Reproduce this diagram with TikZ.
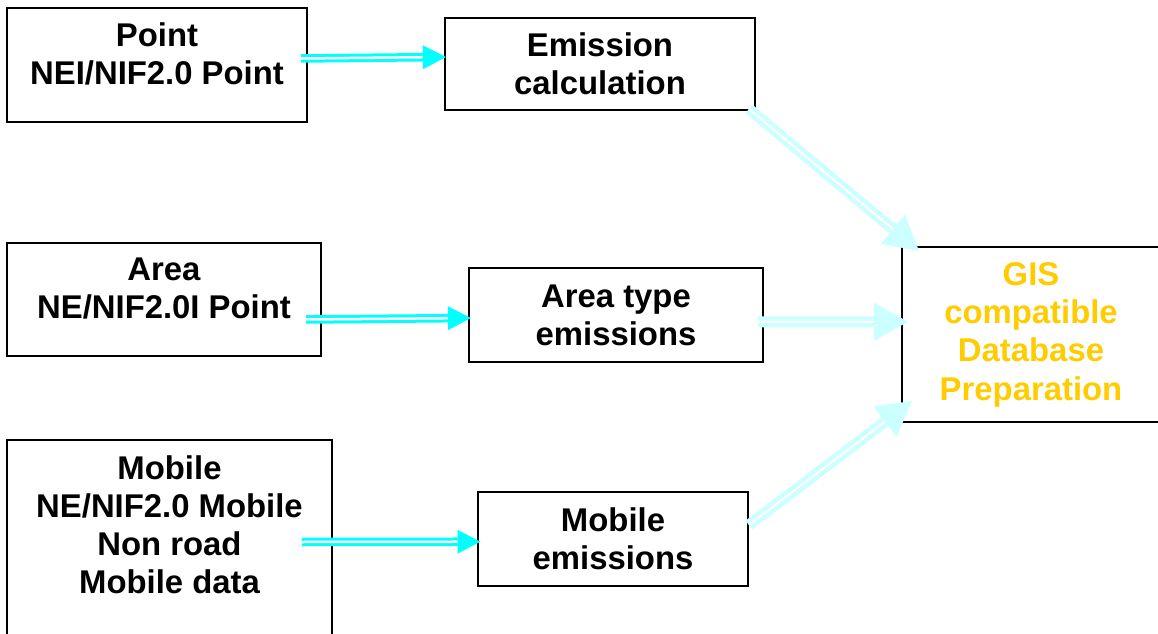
\documentclass[tikz,border=0pt]{standalone}
\usepackage{fontspec}
\setmainfont{Liberation Sans}
\usetikzlibrary{arrows.meta}
\definecolor{feedcyan}{HTML}{00FFFF}
\definecolor{palecyan}{HTML}{CCFFFF}
\definecolor{gisgold}{HTML}{FFCC00}
\tikzset{
  box/.style={draw, line width=0.04cm, align=center, inner sep=0pt,
    font=\bfseries\fontsize{18.7}{21.6}\selectfont},
  feed/.style={draw=feedcyan, double=white, line width=0.06cm, double distance=0.05cm,
    -{Triangle[length=0.46cm, width=0.46cm]}},
  merge/.style={draw=palecyan, double=white, line width=0.09cm, double distance=0.04cm,
    -{Triangle[length=0.68cm, width=0.74cm]}},
}
\begin{document}
\begin{tikzpicture}[x=0.02cm, y=-0.02cm]
  \useasboundingbox (0,0) rectangle (1158,634);
  % input data
  \node[box, minimum width=6cm, minimum height=2.28cm, text depth=0.45cm] (point) at (157,65) {Point\\NEI/NIF2.0 Point};
  \node[box, minimum width=6.28cm, minimum height=2.26cm, text depth=0.45cm] (area) at (164,299.5) {Area\\NE/NIF2.0I Point};
  \node[box, minimum width=6.5cm, minimum height=4.4cm] (mobile) at (169.5,550) {};
  \node[box, draw=none] (mobiletext) at (169.5,524.5) {Mobile\\NE/NIF2.0 Mobile\\Non road\\Mobile data};
  % processing steps
  \node[box, minimum width=6.2cm, minimum height=1.84cm] (calc) at (600,64) {Emission\\calculation};
  \node[box, minimum width=5.88cm, minimum height=1.88cm] (areaem) at (616,315) {Area type\\emissions};
  \node[box, minimum width=5.4cm, minimum height=1.88cm] (mobem) at (613,539) {Mobile\\emissions};
  % output
  \node[box, text=gisgold, minimum width=5.16cm, minimum height=3.5cm,
    font=\bfseries\fontsize{18.7}{21.8}\selectfont] (gis) at (1031,334.5)
    {GIS\\compatible\\Database\\Preparation};

  \draw[feed] ([shift={(-7,-6.5)}]point.east) -- ([shift={(2,-7)}]calc.west);
  \draw[feed] ([shift={(-16,20)}]area.east) -- ([shift={(3,3)}]areaem.west);
  \draw[feed] ([shift={(-31,-8)}]mobile.east) -- ([shift={(3.5,2.7)}]mobem.west);

  \draw[merge] ([shift={(-7,-2)}]calc.south east) -- ([shift={(18,5)}]gis.north west);
  \draw[merge] ([shift={(-6,7)}]areaem.east) -- ([shift={(7,-12.8)}]gis.west);
  \draw[merge] ([shift={(0,-14)}]mobem.east) -- ([shift={(11,-22)}]gis.south west);
\end{tikzpicture}
\end{document}
